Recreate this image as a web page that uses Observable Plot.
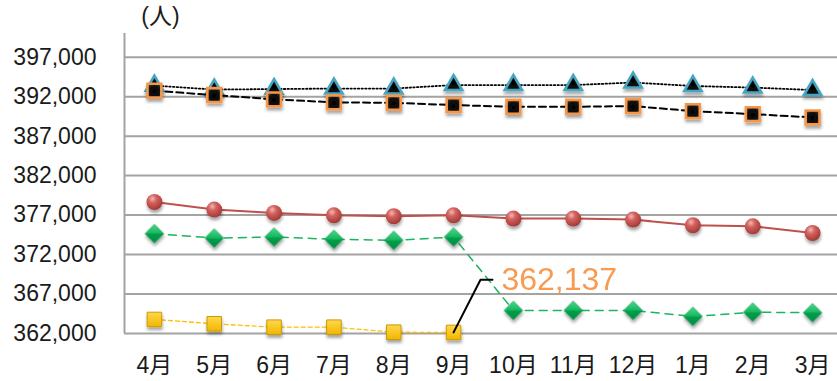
<!DOCTYPE html>
<html>
<head>
<meta charset="utf-8">
<script src="https://cdn.jsdelivr.net/npm/d3@7"></script>
<script src="https://cdn.jsdelivr.net/npm/@observablehq/plot@0.6"></script>
<style>
  html, body { margin: 0; padding: 0; background: #fff; }
  #chart { width: 837px; height: 381px; }
</style>
</head>
<body>
<div id="chart"></div>
<script>
// Monthly figures (persons), April through March
const months = ["4月", "5月", "6月", "7月", "8月", "9月", "10月", "11月", "12月", "1月", "2月", "3月"];

const triangleSeries = [393400, 392900, 392960, 393030, 393030, 393470, 393470, 393470, 393790, 393350, 393150, 392840];
const squareSeries   = [392750, 392200, 391660, 391280, 391220, 390930, 390720, 390720, 390810, 390170, 389790, 389370];
const circleSeries   = [378660, 377700, 377270, 376970, 376850, 376970, 376560, 376560, 376430, 375710, 375580, 374730];
const diamondSeries  = [374650, 374090, 374220, 373930, 373800, 374220, 364920, 364920, 364920, 364160, 364700, 364630];
const goldSeries     = [363780, 363230, 362800, 362800, 362165, 362137];

const yTicks = [362000, 367000, 372000, 377000, 382000, 387000, 392000, 397000];

// Callout on the last value of the gold series
const calloutIndex = goldSeries.length - 1;
const calloutValue = goldSeries[calloutIndex];

const rows = values => values.map((v, i) => ({i, v}));
const FONT = '"Liberation Sans", "Noto Sans CJK JP", Arial, sans-serif';
const fmt = d3.format(",");

const leader = [
  {x: calloutIndex, y: calloutValue},
  {x: calloutIndex + 0.45, y: calloutValue + 6675},
  {x: calloutIndex + 0.65, y: calloutValue + 6675}
];

const plot = Plot.plot({
  width: 837,
  height: 381,
  marginLeft: 124,
  marginRight: 0,
  marginTop: 33,
  marginBottom: 48,
  style: {fontFamily: FONT, fontSize: "23px", color: "#1a1a1a", background: "#fff", overflow: "visible"},
  x: {
    type: "linear",
    domain: [-0.5, 11.5],
    range: [124, 842],
    ticks: d3.range(months.length),
    tickFormat: i => months[i],
    tickSize: 0,
    tickPadding: 23,
    label: null
  },
  y: {
    domain: [362000, 400000],
    ticks: yTicks,
    tickFormat: fmt,
    tickSize: 0,
    tickPadding: 28,
    label: null
  },
  marks: [
    Plot.ruleY(yTicks, {stroke: "#a3a3a3", strokeWidth: 2}),
    Plot.ruleX([-0.5], {stroke: "#a3a3a3", strokeWidth: 2}),

    // gold squares (first half of the year)
    Plot.line(rows(goldSeries), {x: "i", y: "v", stroke: "#FFC000", strokeWidth: 1.3, strokeDasharray: "4,3"}),
    Plot.dot(rows(goldSeries), {x: "i", y: "v", symbol: "square", r: 8.2, fill: "url(#goldTile)", stroke: "#C99A00", strokeWidth: 1}),

    // green diamonds
    Plot.line(rows(diamondSeries), {x: "i", y: "v", stroke: "#1DB45E", strokeWidth: 1.5, strokeDasharray: "8,6"}),
    Plot.dot(rows(diamondSeries), {x: "i", y: "v", symbol: "diamond2", r: 8.4, fill: "url(#gemGreen)", stroke: "#0A8F45", strokeWidth: 0.6}),

    // red circles
    Plot.line(rows(circleSeries), {x: "i", y: "v", stroke: "#C0504D", strokeWidth: 2}),
    Plot.dot(rows(circleSeries), {x: "i", y: "v", symbol: "circle", r: 8, fill: "url(#ballRed)", stroke: "none"}),

    // teal-edged triangles, dotted line
    Plot.line(rows(triangleSeries), {x: "i", y: "v", stroke: "#000", strokeWidth: 1.8, strokeDasharray: "1.5,2.2"}),
    Plot.dot(rows(triangleSeries), {x: "i", y: "v", symbol: "triangle", r: 6.4, fill: "url(#pyramidBlack)", stroke: "#46A5C0", strokeWidth: 2.6}),

    // orange-edged squares, dashed line
    Plot.line(rows(squareSeries), {x: "i", y: "v", stroke: "#000", strokeWidth: 2, strokeDasharray: "7,4"}),
    Plot.dot(rows(squareSeries), {x: "i", y: "v", symbol: "square", r: 7.8, fill: "url(#pyramidBlack)", stroke: "#F79646", strokeWidth: 2.6}),

    // callout
    Plot.line(leader, {x: "x", y: "y", stroke: "#000", strokeWidth: 2}),
    Plot.text([leader[2]], {x: "x", y: "y", text: () => fmt(calloutValue), textAnchor: "start", dx: 9, fill: "#F89A50", fontSize: 32}),

    // unit label
    Plot.text(["(人)"], {text: d => d, frameAnchor: "top-left", textAnchor: "middle", lineAnchor: "middle", dx: 36, dy: -17, fontSize: 23, fill: "#1a1a1a"})
  ]
});

// gradients and marker shadow
d3.select(plot).insert("defs", ":first-child").html(`
  <radialGradient id="ballRed" cx="0.38" cy="0.3" r="0.75">
    <stop offset="0" stop-color="#F6B6B3"/>
    <stop offset="0.35" stop-color="#D2625E"/>
    <stop offset="1" stop-color="#9E3532"/>
  </radialGradient>
  <linearGradient id="gemGreen" x1="0" y1="0" x2="0" y2="1">
    <stop offset="0" stop-color="#4CD98A"/>
    <stop offset="0.5" stop-color="#14B75E"/>
    <stop offset="0.5" stop-color="#00A04C"/>
    <stop offset="1" stop-color="#0A8A42"/>
  </linearGradient>
  <radialGradient id="pyramidBlack" cx="0.5" cy="0.55" r="0.7">
    <stop offset="0" stop-color="#000"/>
    <stop offset="0.6" stop-color="#141414"/>
    <stop offset="1" stop-color="#5a5a5a"/>
  </radialGradient>
  <linearGradient id="goldTile" x1="0" y1="0" x2="0" y2="1">
    <stop offset="0" stop-color="#FFD84D"/>
    <stop offset="1" stop-color="#F2B600"/>
  </linearGradient>
  <filter id="markerShadow" x="-60%" y="-60%" width="220%" height="220%">
    <feDropShadow dx="0.5" dy="3" stdDeviation="1.6" flood-color="#000" flood-opacity="0.35"/>
  </filter>
`);
d3.select(plot).selectAll('g[aria-label="dot"]').attr("filter", "url(#markerShadow)");

document.getElementById("chart").appendChild(plot);
</script>
</body>
</html>
